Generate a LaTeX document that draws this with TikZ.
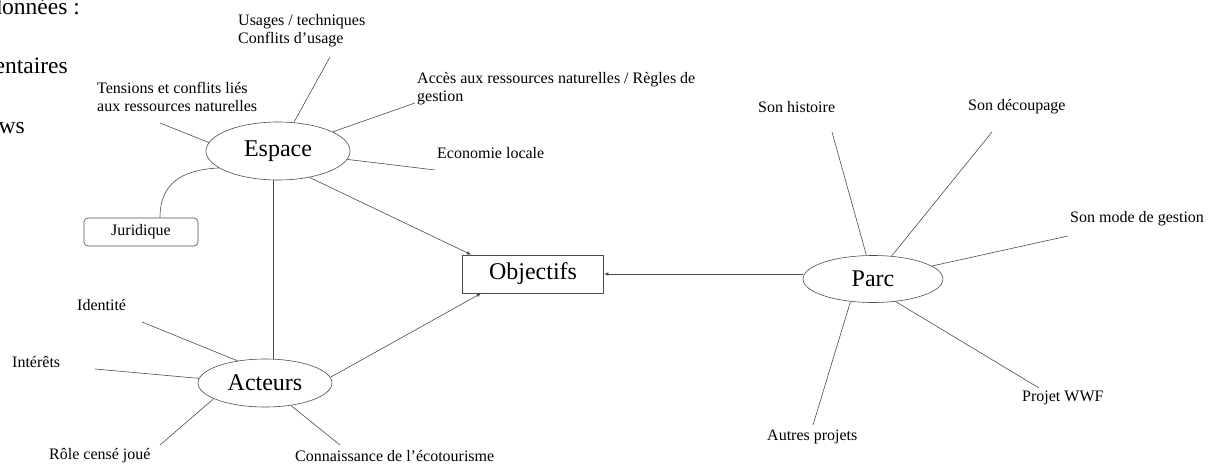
\documentclass[tikz,border=0pt]{standalone}
\usepackage{fontspec}
\setmainfont{Liberation Serif}
\usetikzlibrary{shapes.geometric,arrows.meta}

\tikzset{
  hub/.style={ellipse,draw=black!70,line width=0.6pt,inner sep=0pt,
    font=\fontsize{24}{28}\selectfont},
  leaf/.style={anchor=west,inner sep=0pt,align=left,
    font=\fontsize{16}{18}\selectfont},
  big/.style={anchor=base east,inner sep=0pt,font=\fontsize{23.5}{28}\selectfont},
  link/.style={draw=black!70,line width=0.6pt},
  feed/.style={link,-{Latex[length=4.5pt,width=3.5pt]}}
}

\begin{document}
\begin{tikzpicture}[x=1pt,y=-1pt]
\useasboundingbox (0,0) rectangle (1215,463);

% fragments on the left edge
\node[big] (t1) at (80,14) {données :};
\node[big] (t2) at (68,73) {entaires};
\node[big] (t3) at (25,133) {ws};

% the three hubs and the goal
\node[hub,minimum width=144pt,minimum height=58pt] (esp) at (278,151) {Espace};
\node[hub,minimum width=134pt,minimum height=48pt] (act) at (265,383) {Acteurs};
\node[hub,minimum width=140pt,minimum height=47pt] (parc) at (873,279) {Parc};
\node[draw=black!70,line width=0.6pt,minimum width=141pt,minimum height=38pt,
  font=\fontsize{24}{28}\selectfont] (obj) at (533,274) {Objectifs};

% Espace
\node[leaf] (us) at (238,31) {Usages / techniques\\Conflits d’usage};
\node[leaf] (acc) at (417,88.5) {Accès aux ressources naturelles / Règles de\\gestion};
\node[leaf] (eco) at (437,153) {Economie locale};
\node[leaf] (ten) at (97,97) {Tensions et conflits liés\\aux ressources naturelles};
\node[draw=black!70,line width=0.6pt,rounded corners=4pt,minimum width=114pt,
  minimum height=28pt,font=\fontsize{16}{18}\selectfont] (jur) at (141,232) {Juridique};
\coordinate (us-e) at (330,57);
\coordinate (acc-e) at (415,103);
\coordinate (eco-e) at (435,170);
\coordinate (ten-e) at (160,123);
\draw[link] (esp) -- (us-e);
\draw[link] (esp) -- (acc-e);
\draw[link] (esp) -- (eco-e);
\draw[link] (esp.173) -- (ten-e);
\draw[link] (esp.196) .. controls (178,170) and (160,186) .. ([xshift=19]jur.north);

% Acteurs
\node[leaf] (id) at (77,305) {Identité};
\node[leaf] (int) at (12,362) {Intérêts};
\node[leaf] (role) at (49,456) {Rôle censé joué};
\node[leaf] (con) at (295,456) {Connaissance de l’écotourisme};
\coordinate (id-e) at (142,322);
\coordinate (int-e) at (95,369);
\coordinate (role-e) at (160,445);
\coordinate (con-e) at (340,445);
\draw[link] (act.141) -- (id-e);
\draw[link] (act.176) -- (int-e);
\draw[link] (act.197) -- (role-e);
\draw[link] (act.-41) -- (con-e);
\coordinate (vx) at (273,0);
\draw[link] (esp.south -| vx) -- (act.north -| vx);

% Parc
\node[leaf] (hist) at (758,107) {Son histoire};
\node[leaf] (dec) at (968,107) {Son découpage};
\node[leaf] (mode) at (1070,219) {Son mode de gestion};
\node[leaf] (wwf) at (1022,398) {Projet WWF};
\node[leaf] (autres) at (767,437) {Autres projets};
\coordinate (hist-e) at (832,132);
\coordinate (dec-e) at (992,132);
\coordinate (mode-e) at (1068,236);
\coordinate (wwf-e) at (1039,388);
\coordinate (autres-e) at (813,425);
\draw[link] (parc) -- (hist-e);
\draw[link] (parc) -- (dec-e);
\draw[link] (parc) -- (mode-e);
\draw[link] (parc.-45) -- (wwf-e);
\draw[link] (parc.-135) -- (autres-e);

% towards the goal
\draw[feed] (esp.-40) -- ([xshift=9]obj.north west);
\draw[feed] (act.5) -- ([xshift=19]obj.south west);
\draw[feed] (parc.west |- obj.east) -- (obj.east);
\end{tikzpicture}
\end{document}
